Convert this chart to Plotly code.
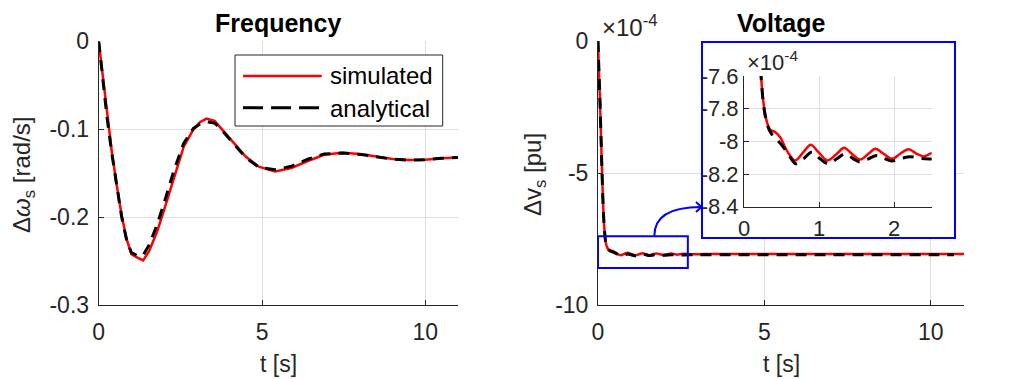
import plotly.graph_objects as go

# page body has an 8px margin, so the figure is drawn 8px in from the corner
OFF = 8
W, H = 1011 - OFF, 379 - OFF

# Frequency response (t in s, delta omega in rad/s)
freq_t = [0, 0.1, 0.25, 0.4, 0.55, 0.7, 0.85, 1.0, 1.2, 1.36, 1.55, 1.8, 2.05, 2.3, 2.6, 2.9,
          3.1, 3.3, 3.55, 3.7, 4.1, 4.5, 4.9, 5.4, 5.9, 6.4, 6.9, 7.45, 8.0, 8.5, 9.0, 9.5,
          10.0, 10.5, 11.0]
freq_sim = [0, -0.033, -0.083, -0.125, -0.163, -0.197, -0.224, -0.242, -0.246, -0.249, -0.238,
            -0.215, -0.186, -0.155, -0.120, -0.100, -0.092, -0.0878, -0.0905, -0.097, -0.114,
            -0.131, -0.1425, -0.148, -0.144, -0.136, -0.129, -0.1266, -0.128, -0.131, -0.1337,
            -0.135, -0.1345, -0.133, -0.132]
freq_ana = [0, -0.034, -0.085, -0.127, -0.165, -0.199, -0.225, -0.240, -0.244, -0.243, -0.231,
            -0.207, -0.178, -0.147, -0.116, -0.099, -0.094, -0.0915, -0.093, -0.098, -0.115,
            -0.132, -0.143, -0.146, -0.142, -0.134, -0.128, -0.127, -0.1285, -0.1315, -0.134,
            -0.135, -0.1345, -0.133, -0.132]

# Voltage response (values in units of 1e-4 pu)
volt_t_sim = [0, 0.03, 0.06, 0.09, 0.12, 0.15, 0.18, 0.21, 0.227, 0.267, 0.311, 0.347, 0.413,
              0.48, 0.569, 0.68, 0.791, 0.889, 0.991, 1.111, 1.236, 1.333, 1.436, 1.547, 1.658,
              1.747, 1.858, 1.969, 2.08, 2.191, 2.302, 2.391, 2.502, 2.62, 2.8, 3.2, 4.0, 5.0,
              6.0, 7.0, 8.0, 9.0, 10.0, 11.0]
volt_sim = [0, -1.2, -2.3, -3.6, -4.9, -6.1, -6.9, -7.4, -7.6, -7.79, -7.89, -7.928, -7.943,
            -7.973, -8.055, -8.117, -8.066, -8.021, -8.066, -8.117, -8.076, -8.039, -8.076,
            -8.111, -8.076, -8.045, -8.076, -8.107, -8.076, -8.049, -8.076, -8.092, -8.072,
            -8.062, -8.078, -8.07, -8.07, -8.07, -8.07, -8.07, -8.07, -8.07, -8.07, -8.07]
volt_t_ana = [0, 0.03, 0.06, 0.09, 0.12, 0.15, 0.18, 0.21, 0.227, 0.267, 0.311, 0.36, 0.413,
              0.524, 0.613, 0.693, 0.791, 0.902, 1.013, 1.124, 1.236, 1.347, 1.458, 1.547,
              1.658, 1.769, 1.88, 1.969, 2.09, 2.213, 2.35, 2.48, 2.7, 3.0, 4.0, 5.0, 6.0,
              7.0, 8.0, 9.0, 10.0, 10.7]
volt_ana = [0, -1.2, -2.3, -3.6, -4.9, -6.1, -6.9, -7.4, -7.6, -7.80, -7.90, -7.95, -7.977,
            -8.035, -8.096, -8.137, -8.107, -8.066, -8.107, -8.137, -8.107, -8.076, -8.107,
            -8.127, -8.107, -8.086, -8.107, -8.12, -8.105, -8.094, -8.105, -8.108, -8.10,
            -8.10, -8.10, -8.10, -8.10, -8.10, -8.10, -8.10, -8.10, -8.10]


def px(x):
    return (x - OFF) / W


def py(y):
    return 1 - (y - OFF) / H


FONT = "Liberation Sans, Arial, sans-serif"
AX = "#262626"
GRID = "#dfdfdf"
SIM = dict(color="#ff0000", width=2.5)
ANA = dict(color="#000000", width=3, dash="11px,8px")
SMOOTH = 1.0

fig = go.Figure()

fig.add_trace(go.Scatter(x=freq_t, y=freq_sim, mode="lines", line=SIM,
                         xaxis="x", yaxis="y", showlegend=False))
fig.add_trace(go.Scatter(x=freq_t, y=freq_ana, mode="lines", line=ANA,
                         xaxis="x", yaxis="y", showlegend=False))
fig.add_trace(go.Scatter(x=volt_t_sim, y=volt_sim, mode="lines",
                         line=dict(SIM, shape="spline", smoothing=SMOOTH),
                         xaxis="x2", yaxis="y2", showlegend=False))
fig.add_trace(go.Scatter(x=volt_t_ana, y=volt_ana, mode="lines",
                         line=dict(ANA, shape="spline", smoothing=SMOOTH),
                         xaxis="x2", yaxis="y2", showlegend=False))
# empty subplot whose white background hides the grid behind the inset
fig.add_trace(go.Scatter(x=[], y=[], xaxis="x3", yaxis="y3", showlegend=False))
fig.add_trace(go.Scatter(x=volt_t_sim, y=volt_sim, mode="lines",
                         line=dict(SIM, shape="spline", smoothing=SMOOTH),
                         xaxis="x4", yaxis="y4", showlegend=False))
fig.add_trace(go.Scatter(x=volt_t_ana, y=volt_ana, mode="lines",
                         line=dict(ANA, shape="spline", smoothing=SMOOTH),
                         xaxis="x4", yaxis="y4", showlegend=False))


def axis(domain, rng, tickvals, ticktext, anchor, size=22, **kw):
    d = dict(domain=domain, range=rng, tickvals=tickvals, ticktext=ticktext, anchor=anchor,
             ticks="inside", ticklen=5, tickcolor=AX, showline=True, linecolor=AX, linewidth=1,
             showgrid=True, gridcolor=GRID, gridwidth=1, zeroline=False,
             tickfont=dict(family=FONT, size=size, color=AX),
             fixedrange=True, automargin=False)
    d.update(kw)
    return d


fig.update_layout(
    width=W, height=H,
    autosize=False,
    margin=dict(l=0, r=0, t=0, b=0, pad=0, autoexpand=False),
    paper_bgcolor="white", plot_bgcolor="white",
    font=dict(family=FONT, color=AX),
    xaxis=axis([px(98.7), px(458)], [0, 11], [0, 5, 10], ["0", "5", "10"], "y",
               size=23, ticklabelstandoff=6),
    yaxis=axis([py(305.3), py(41.3)], [-0.3, 0], [-0.3, -0.2, -0.1, 0],
               ["-0.3", "-0.2", "-0.1", "0"], "x", size=23, ticklabelstandoff=4),
    xaxis2=axis([px(598), px(964)], [0, 11], [0, 5, 10], ["0", "5", "10"], "y2",
                size=23, ticklabelstandoff=6),
    yaxis2=axis([py(305), py(41)], [-10, 0], [-10, -5, 0], ["-10", "-5", "0"], "x2",
                size=23, ticklabelstandoff=4),
    xaxis3=dict(domain=[px(702), px(955)], visible=False, anchor="y3", range=[0, 1], automargin=False),
    yaxis3=dict(domain=[py(238), py(42)], visible=False, anchor="x3", range=[0, 1], automargin=False),
    xaxis4=axis([px(744), px(931.7)], [0, 2.5], [0, 1, 2], ["0", "1", "2"], "y4",
                ticklabelstandoff=2),
    yaxis4=axis([py(206.7), py(76)], [-8.4, -7.6], [-8.4, -8.2, -8.0, -7.8, -7.6],
                ["-8.4", "-8.2", "-8", "-7.8", "-7.6"], "x4"),
)

shapes = [
    # zoom region marker in the main voltage axes
    dict(type="rect", xref="x2", yref="y2", x0=0, x1=2.7, y0=-8.6, y1=-7.4,
         line=dict(color="#0000ff", width=2), layer="above"),
    # inset frame
    dict(type="rect", xref="paper", yref="paper", x0=px(702), x1=px(955), y0=py(238), y1=py(42),
         line=dict(color="#0000ff", width=2), layer="above"),
    # curved arrow
    dict(type="path", xref="paper", yref="paper",
         path=f"M {px(654.3)},{py(236)} Q {px(654.3)},{py(207)} {px(701)},{py(207)}",
         line=dict(color="#0000ff", width=2), layer="above"),
    dict(type="path", xref="paper", yref="paper",
         path=f"M {px(696)},{py(202)} L {px(701.5)},{py(207)} L {px(696)},{py(212)}",
         line=dict(color="#0000ff", width=2), layer="above"),
    # legend box
    dict(type="rect", xref="paper", yref="paper", x0=px(235), x1=px(442.7), y0=py(126), y1=py(55),
         line=dict(color=AX, width=1), fillcolor="white", layer="above"),
    dict(type="line", xref="paper", yref="paper", x0=px(243), x1=px(321.7), y0=py(76), y1=py(76),
         line=SIM, layer="above"),
    dict(type="line", xref="paper", yref="paper", x0=px(243), x1=px(321.7), y0=py(107.7), y1=py(107.7),
         line=dict(color="#000000", width=3, dash="20px,8px"), layer="above"),
]
fig.update_layout(shapes=shapes)


def note(text, x, y, size, xanchor="center", yanchor="middle", angle=0, bold=False, color=AX):
    fig.add_annotation(text=f"<b>{text}</b>" if bold else text, x=px(x), y=py(y),
                       xref="paper", yref="paper", xanchor=xanchor, yanchor=yanchor,
                       showarrow=False, textangle=angle,
                       font=dict(family=FONT, size=size, color=color))


note("Frequency", 278, 22.7, 25, bold=True, color="#000000")
note("Voltage", 781, 22.7, 25, bold=True, color="#000000")
note("t [s]", 278, 364, 23)
note("t [s]", 781, 364, 23)
note("Δ<i>ω</i><sub>s</sub> [rad/s]", 23, 175, 24, angle=-90)
note("Δv<sub>s</sub> [pu]", 534, 175, 24, angle=-90)
note("×10<sup>-4</sup>", 600, 43, 24, xanchor="left", yanchor="bottom")
note("×10<sup>-4</sup>", 745, 77, 22, xanchor="left", yanchor="bottom")
note("simulated", 328, 76, 24, xanchor="left", color="#000000")
note("analytical", 328, 108, 24, xanchor="left", color="#000000")

fig.write_html("out.html")
